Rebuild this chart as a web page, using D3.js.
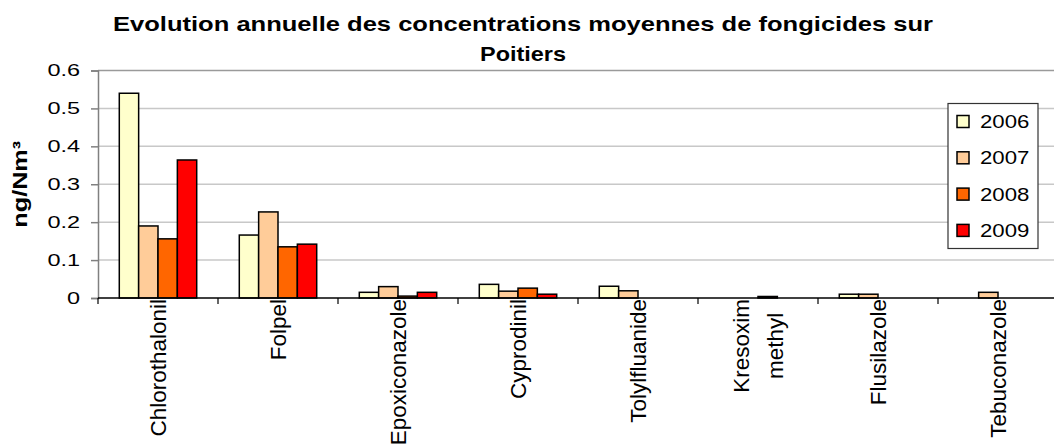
<!DOCTYPE html>
<html>
<head>
<meta charset="utf-8">
<script src="https://cdn.jsdelivr.net/npm/d3@7"></script>
<style>
  body { margin: 0; background: #fff; }
  svg { display: block; font-family: "Liberation Sans", Arial, sans-serif; }
</style>
</head>
<body>
<svg id="chart" width="1054" height="444"></svg>
<script>
// data
const categories = ["Chlorothalonil", "Folpel", "Epoxiconazole", "Cyprodinil", "Tolylfluanide", "Kresoxim methyl", "Flusilazole", "Tebuconazole"];
const catLabels = [["Chlorothalonil"], ["Folpel"], ["Epoxiconazole"], ["Cyprodinil"], ["Tolylfluanide"], ["Kresoxim", "methyl"], ["Flusilazole"], ["Tebuconazole"]];
const years = ["2006", "2007", "2008", "2009"];
const v2006 = [0.54, 0.166, 0.015, 0.036, 0.031, 0, 0.01, 0];
const v2007 = [0.19, 0.227, 0.03, 0.018, 0.019, 0, 0.01, 0.015];
const v2008 = [0.156, 0.135, 0.005, 0.026, 0, 0.004, 0, 0];
const v2009 = [0.364, 0.142, 0.015, 0.01, 0, 0, 0, 0];
const yTicks = [0, 0.1, 0.2, 0.3, 0.4, 0.5, 0.6];
const titleLines = ["Evolution annuelle des concentrations moyennes de fongicides sur", "Poitiers"];
const yTitle = "ng/Nm³";

const series = [v2006, v2007, v2008, v2009];
const colors = ["#FFFFCC", "#FFCC99", "#FF6600", "#FF0000"];

const svg = d3.select("#chart");
const plotLeft = 98, plotRight = 1058, plotTop = 70.5, plotBottom = 298;

const x = d3.scaleBand().domain(categories).range([plotLeft, plotRight]);
const xi = d3.scaleBand().domain(years).range([0, x.bandwidth()]).paddingOuter(1.1);
const y = d3.scaleLinear().domain([0, 0.6]).range([plotBottom, plotTop]);
const color = d3.scaleOrdinal().domain(years).range(colors);

// stretch text horizontally like the excel export
function stretch(sel, k) {
  sel.each(function () {
    const w = this.getComputedTextLength();
    d3.select(this).attr("textLength", w * k).attr("lengthAdjust", "spacingAndGlyphs");
  });
}

// gridlines
svg.append("g")
  .selectAll("line")
  .data(yTicks.slice(1))
  .join("line")
  .attr("x1", plotLeft).attr("x2", plotRight)
  .attr("y1", d => y(d)).attr("y2", d => y(d))
  .attr("stroke", d => d === 0.6 ? "#9a9a9a" : "#c8c8c8")
  .attr("stroke-width", 1.5);

// y axis
const yAxis = svg.append("g")
  .attr("transform", `translate(${plotLeft},0)`)
  .call(d3.axisLeft(y).tickValues(yTicks).tickSize(7).tickPadding(11)
    .tickFormat(d => d === 0 ? "0" : d3.format(".1f")(d)));
yAxis.select(".domain").attr("stroke", "#808080").attr("stroke-width", 1.5);
yAxis.selectAll(".tick line").attr("stroke", "#808080").attr("stroke-width", 1.5);
yAxis.selectAll(".tick text")
  .attr("font-size", 17)
  .attr("font-family", "'Liberation Sans', Arial, sans-serif")
  .attr("fill", "#000")
  .call(stretch, 1.38);

// bars
const bars = svg.append("g");
categories.forEach((c, i) => {
  const g = bars.append("g").attr("transform", `translate(${x(c)},0)`);
  g.selectAll("rect")
    .data(years.map((yr, j) => ({ yr, v: series[j][i] })).filter(d => d.v > 0))
    .join("rect")
    .attr("x", d => xi(d.yr))
    .attr("width", xi.bandwidth())
    .attr("y", d => y(d.v))
    .attr("height", d => y(0) - y(d.v))
    .attr("fill", d => color(d.yr))
    .attr("stroke", "#000")
    .attr("stroke-width", 1.5);
});

// x axis line + ticks at category boundaries
svg.append("line")
  .attr("x1", plotLeft).attr("x2", plotRight)
  .attr("y1", plotBottom).attr("y2", plotBottom)
  .attr("stroke", "#000").attr("stroke-width", 1.5);
svg.append("g")
  .selectAll("line")
  .data(categories)
  .join("line")
  .attr("x1", d => x(d)).attr("x2", d => x(d))
  .attr("y1", plotBottom).attr("y2", plotBottom + 6)
  .attr("stroke", "#000").attr("stroke-width", 1.2);

// category labels, rotated
const labelTop = plotBottom + 1;
categories.forEach((c, i) => {
  const lines = catLabels[i];
  const cx = x(c) + x.bandwidth() / 2;
  const g = svg.append("g");
  const texts = lines.map(ln => g.append("text")
    .attr("font-size", 22.5)
    .attr("dy", "0.35em")
    .text(ln));
  if (lines.length === 1) {
    texts[0].attr("text-anchor", "end")
      .attr("transform", `translate(${cx},${labelTop}) rotate(-90)`);
  } else {
    const longest = d3.max(texts, t => t.node().getComputedTextLength());
    const mid = labelTop + longest / 2;
    const gap = 34;
    texts.forEach((t, k) => {
      const off = (k - (lines.length - 1) / 2) * gap;
      t.attr("text-anchor", "middle")
        .attr("transform", `translate(${cx + off},${mid}) rotate(-90)`);
    });
  }
});

// y axis title
svg.append("text")
  .attr("transform", `translate(20,${(plotTop + plotBottom) / 2}) rotate(-90)`)
  .attr("text-anchor", "middle")
  .attr("dy", "0.35em")
  .attr("font-size", 21)
  .attr("font-weight", "bold")
  .text(yTitle)
  .call(stretch, 1.2);

// title, widened to the reference's line widths
const titleWidths = [820, 86];
svg.append("g")
  .selectAll("text")
  .data(titleLines)
  .join("text")
  .attr("x", 523)
  .attr("y", (d, i) => 31 + i * 30)
  .attr("text-anchor", "middle")
  .attr("font-size", 21)
  .attr("font-weight", "bold")
  .attr("textLength", (d, i) => titleWidths[i])
  .attr("lengthAdjust", "spacingAndGlyphs")
  .text(d => d);

// legend
const legend = svg.append("g").attr("transform", "translate(948,103.5)");
legend.append("rect")
  .attr("width", 90).attr("height", 145)
  .attr("fill", "#fff").attr("stroke", "#333").attr("stroke-width", 1.2);
const item = legend.selectAll("g.item")
  .data(years)
  .join("g")
  .attr("class", "item")
  .attr("transform", (d, i) => `translate(0,${18 + i * 36.3})`);
item.append("rect")
  .attr("x", 9).attr("y", -6).attr("width", 12).attr("height", 12)
  .attr("fill", d => color(d)).attr("stroke", "#000").attr("stroke-width", 1.5);
item.append("text")
  .attr("x", 32).attr("dy", "0.35em")
  .attr("font-size", 18.5)
  .text(d => d)
  .call(stretch, 1.2);
</script>
</body>
</html>
